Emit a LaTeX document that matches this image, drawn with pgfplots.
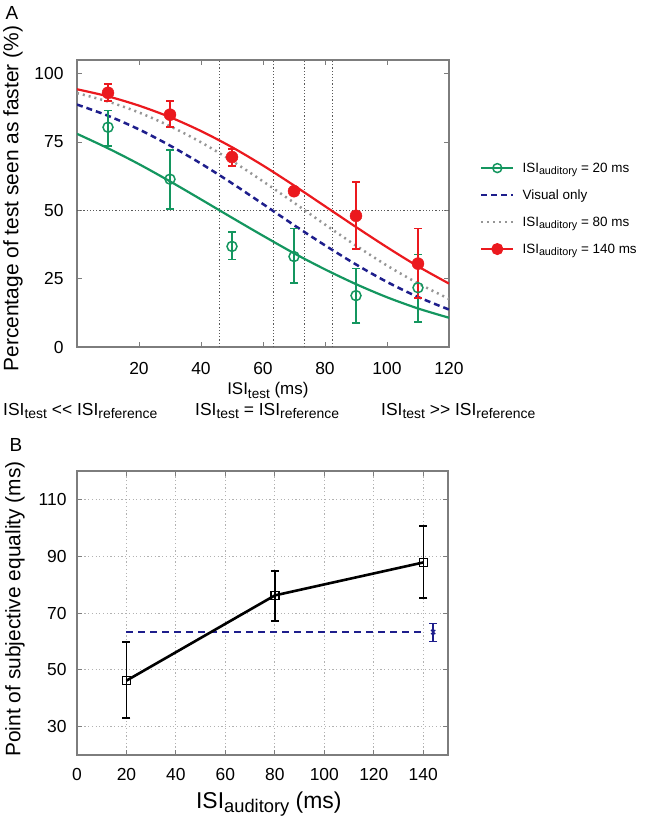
\documentclass[border=0pt]{standalone}
\usepackage{pgfplots}
\pgfplotsset{compat=1.18}
\usepackage{fontspec}
\setmainfont{Liberation Sans}

\definecolor{cgreen}{RGB}{20,150,95}
\definecolor{cred}{RGB}{235,25,30}
\definecolor{cblue}{RGB}{30,30,140}
\definecolor{cgray}{RGB}{150,150,150}
\definecolor{caxis}{RGB}{125,125,125}
\newcommand{\sub}[1]{\raisebox{-0.4ex}{\scalebox{0.8}{#1}}}

\pgfplotsset{
  common/.style={
    scale only axis,
    anchor=north west,
    axis line style={caxis, line width=1.2bp},
    tick style={caxis, line width=1bp},
    major tick length=5bp,
    tick align=inside,
    /pgf/number format/assume math mode=true,
    ticklabel style={font=\fontsize{17.5}{20}\selectfont},
    label style={font=\fontsize{21}{24}\selectfont},
  },
  legend image code/.code={\draw[mark repeat=2,mark phase=2,#1] plot coordinates {(0bp,0bp) (16bp,0bp) (32bp,0bp)};},
  ebars/.style={error bars/.cd, y dir=both, y explicit,
    error bar style={line width=1.5bp, solid},
    error mark options={rotate=90, mark size=4bp, line width=1.5bp}},
}

\begin{document}
\begin{tikzpicture}
\useasboundingbox (0,0) rectangle (645bp,-822bp);

% panel A
\begin{axis}[common, at={(77bp,-60bp)}, width=372bp, height=287bp,
  xmin=0, xmax=120, ymin=0, ymax=105,
  xtick={20,40,...,120}, ytick={0,25,50,75,100},
  xticklabel style={yshift=-12bp}, yticklabel style={xshift=-10bp},
  ylabel={Percentage of test seen as faster (\%)},
  ylabel style={at={(axis description cs:-0.172,0.517)}, anchor=center},
  xlabel={ISI\sub{test} (ms)},
  xlabel style={at={(axis description cs:0.513,-0.167)}, anchor=base, font=\fontsize{17}{20}\selectfont},
  legend style={draw=none, fill=none, at={(axis description cs:1.083,0.65)}, anchor=north west,
    font=\fontsize{13.5}{16}\selectfont, row sep=12bp, inner sep=0pt, cells={anchor=west},
    /tikz/every odd column/.append style={column sep=6bp}},
]
\addlegendimage{cgreen, line width=2bp, mark=o, mark size=4.5bp, mark options={solid, line width=1.5bp}}
\addlegendentry{ISI\sub{auditory} = 20 ms}
\addlegendimage{cblue, line width=2.5bp, dash pattern=on 6bp off 4bp}
\addlegendentry{Visual only}
\addlegendimage{cgray, line width=2.5bp, dash pattern=on 2bp off 4bp}
\addlegendentry{ISI\sub{auditory} = 80 ms}
\addlegendimage{cred, line width=2bp, mark=*, mark size=5bp}
\addlegendentry{ISI\sub{auditory} = 140 ms}

% reference lines
\addplot[forget plot, black!65, line width=0.9bp, dash pattern=on 1.2bp off 2bp] coordinates {(0,50) (120,50)};
\addplot[forget plot, black!65, line width=0.9bp, dash pattern=on 1.2bp off 2bp] coordinates {(45.8,0) (45.8,105)};
\addplot[forget plot, black!65, line width=0.9bp, dash pattern=on 1.2bp off 2bp] coordinates {(63.3,0) (63.3,105)};
\addplot[forget plot, black!65, line width=0.9bp, dash pattern=on 1.2bp off 2bp] coordinates {(73.5,0) (73.5,105)};
\addplot[forget plot, black!65, line width=0.9bp, dash pattern=on 1.2bp off 2bp] coordinates {(82.3,0) (82.3,105)};

% fitted curves
\addplot[forget plot, cgreen, line width=2.2bp, smooth] coordinates {
  (0,78.0) (10,72.7) (20,66.9) (30,60.6) (40,54.0) (50,47.3) (60,40.7)
  (70,34.3) (80,28.4) (90,23.0) (100,18.2) (110,14.1) (120,10.7)};
\addplot[forget plot, cblue, line width=2.5bp, smooth, dash pattern=on 6bp off 4bp] coordinates {
  (0,88.7) (10,84.6) (20,79.6) (30,73.7) (40,67.1) (50,59.9) (60,52.3)
  (70,44.6) (80,37.2) (90,30.2) (100,23.8) (110,18.3) (120,13.7)};
\addplot[forget plot, cgray, line width=2.5bp, smooth, dash pattern=on 2bp off 4bp] coordinates {
  (0,92.9) (10,89.8) (20,85.8) (30,80.8) (40,74.9) (50,68.1) (60,60.6)
  (70,52.8) (80,44.8) (90,37.1) (100,29.8) (110,23.3) (120,17.6)};
\addplot[forget plot, cred, line width=2.2bp, smooth] coordinates {
  (0,94.3) (10,91.7) (20,88.3) (30,84.1) (40,79.0) (50,73.1) (60,66.4)
  (70,59.1) (80,51.5) (90,43.9) (100,36.5) (110,29.5) (120,23.2)};

% data points
\addplot[forget plot, only marks, cgreen, mark=o, mark size=5bp, mark options={line width=1.5bp}, ebars] coordinates {
  (10,80.4) += (0,6.1) -= (0,6.8)
  (30,61.4) += (0,10.6) -= (0,11.0)
  (50,36.8) += (0,5.2) -= (0,4.8)
  (70,33.1) += (0,10.2) -= (0,9.6)
  (90,18.8) += (0,9.9) -= (0,10.0)
  (110,21.7) += (0,12.1) -= (0,12.5)};
\addplot[forget plot, only marks, cred, mark=*, mark size=6bp, ebars] coordinates {
  (10,93.0) += (0,3.3) -= (0,3.0)
  (30,85.0) += (0,5.0) -= (0,4.5)
  (50,69.5) += (0,3.0) -= (0,3.3)
  (70,57.0) += (0,1.5) -= (0,1.5)
  (90,48.0) += (0,12.3) -= (0,12.2)
  (110,30.5) += (0,12.9) -= (0,12.5)};
\end{axis}

% panel B
\begin{axis}[common, at={(77bp,-471bp)}, width=371bp, height=284bp,
  xmin=0, xmax=150, ymin=20, ymax=120,
  xtick={0,20,...,140}, ytick={30,50,...,110},
  xticklabel style={yshift=-10bp}, yticklabel style={xshift=-7bp},
  grid=major, grid style={gray!60, line width=0.9bp, dash pattern=on 1.2bp off 2.5bp},
  ylabel={Point of subjective equality (ms)},
  ylabel style={at={(axis description cs:-0.167,0.514)}, anchor=center},
  xlabel={ISI\sub{auditory} (ms)},
  xlabel style={at={(axis description cs:0.517,-0.187)}, anchor=base, font=\fontsize{23}{26}\selectfont},
]
\addplot[cblue, line width=2.2bp, dash pattern=on 7bp off 5bp] coordinates {(20,63.3) (140,63.3)};
\addplot[black, line width=2.6bp, mark=square, mark size=4bp, mark options={solid, line width=1.3bp, fill=white}, ebars] coordinates {
  (20,46.2) += (0,13.6) -= (0,13.2)
  (80,76.2) += (0,8.6) -= (0,9.0)
  (140,87.8) += (0,12.8) -= (0,12.5)};
\addplot[cblue, only marks, mark=x, mark size=3bp, mark options={line width=1.3bp}, ebars] coordinates {
  (144,63.3) += (0,3.0) -= (0,3.3)};
\end{axis}

% annotations and panel letters
\node[anchor=center, font=\fontsize{19}{22}\selectfont, inner sep=0] at (12bp,-13bp) {A};
\node[anchor=center, font=\fontsize{19}{22}\selectfont, inner sep=0] at (16bp,-445bp) {B};
\node[anchor=base west, font=\fontsize{17.5}{20}\selectfont, inner sep=0] at (3bp,-415bp) {ISI\sub{test} <{}< ISI\sub{reference}};
\node[anchor=base west, font=\fontsize{17.5}{20}\selectfont, inner sep=0] at (195bp,-415bp) {ISI\sub{test} = ISI\sub{reference}};
\node[anchor=base west, font=\fontsize{17.5}{20}\selectfont, inner sep=0] at (381bp,-415bp) {ISI\sub{test} >{}> ISI\sub{reference}};
\end{tikzpicture}
\end{document}
